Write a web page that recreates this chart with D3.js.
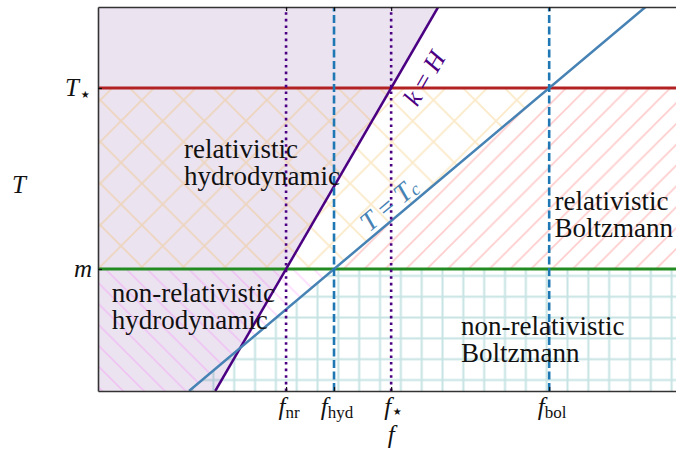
<!DOCTYPE html>
<html>
<head>
<meta charset="utf-8">
<script src="https://cdn.jsdelivr.net/npm/d3@7"></script>
<style>
  html, body { margin: 0; padding: 0; background: #fff; }
  svg { display: block; }
  text { font-family: "Liberation Serif", "DejaVu Serif", serif; fill: #111; }
</style>
</head>
<body>
<svg id="chart" width="676" height="450"></svg>
<script>
// ---------------- data (log-scale units) ----------------
const xDomain = [0, 4.9];
const yDomain = [0, 3.148];

// frequency thresholds on the f axis
const fSub  = ["nr", "hyd", "\u22C6", "bol"];
const fVals = [1.541, 1.934, 2.402, 3.697];

// temperature thresholds on the T axis
const tBase = ["m", "T"];
const tSub  = ["", "\u22C6"];
const tVals = [1.0, 2.484];

// regime labels
const regimeLines = [
  ["relativistic", "hydrodynamic"],
  ["non-relativistic", "hydrodynamic"],
  ["relativistic", "Boltzmann"],
  ["non-relativistic", "Boltzmann"]
];
const regimeAnchor = [[0.705, 1.91], [0.112, 0.727], [3.74, 1.484], [2.975, 0.459]];

// ---------------- layout ----------------
const svg = d3.select("#chart");
const L = 98, T0 = 7, B = 391, R = 696;
const x = d3.scaleLinear().domain(xDomain).range([L, R]);
const y = d3.scaleLinear().domain(yDomain).range([B, T0]);

const fNr = fVals[0], fHyd = fVals[1], fStar = fVals[2], fBol = fVals[3];
const m = tVals[0], tStar = tVals[1];

// k = H line through (f_nr, m) and (f_star, T_star)
const kSlope = (tStar - m) / (fStar - fNr);
const kH = v => fNr + (v - m) / kSlope;
// T = Tc line through (f_hyd, m) and (f_bol, T_star)
const cSlope = (tStar - m) / (fBol - fHyd);
const tc = v => fHyd + (v - m) / cSlope;

const yMin = yDomain[0], yMax = yDomain[1], xMin = xDomain[0], xMax = xDomain[1];

// ---------------- patterns ----------------
const defs = svg.append("defs");
defs.append("clipPath").attr("id", "plotclip")
  .append("rect").attr("x", L).attr("y", T0).attr("width", R - L).attr("height", B - T0);

function pattern(id, size, ox, oy, d, color, sw) {
  const p = defs.append("pattern").attr("id", id)
    .attr("patternUnits", "userSpaceOnUse")
    .attr("x", ox).attr("y", oy).attr("width", size).attr("height", size);
  p.append("path").attr("d", d).attr("stroke", color).attr("stroke-width", sw)
    .attr("fill", "none");
}
const P1 = 20.83, P2 = 41.66;
pattern("hatchGrid", P1, 5.1 - P1 / 2, 5.1 - P1 / 2,
  `M${P1/2},0 V${P1} M0,${P1/2} H${P1}`, "rgba(0,128,128,0.22)", 2);
pattern("hatchFwd", P1, 8.5, 0,
  `M0,${P1} L${P1},0 M-2,2 L2,-2 M${P1-2},${P1+2} L${P1+2},${P1-2}`, "rgba(255,0,0,0.2)", 1.6);
pattern("hatchBack", P1, 3, 0,
  `M0,0 L${P1},${P1} M${P1-2},-2 L${P1+2},2 M-2,${P1-2} L2,${P1+2}`, "rgba(255,0,255,0.16)", 1.5);
pattern("hatchCross", P2, 16.9, 16.8,
  `M0,0 L${P2},${P2} M0,${P2} L${P2},0 M${P2-2},-2 L${P2+2},2 M-2,${P2-2} L2,${P2+2} M-2,2 L2,-2 M${P2-2},${P2+2} L${P2+2},${P2-2}`,
  "rgba(240,170,40,0.25)", 1.9);

const plot = svg.append("g").attr("clip-path", "url(#plotclip)");
const poly = pts => "M" + pts.map(p => `${x(p[0])},${y(p[1])}`).join("L") + "Z";

plot.append("path")
  .attr("d", poly([[xMin, yMin], [kH(yMin), yMin], [kH(yMax), yMax], [xMin, yMax]]))
  .attr("fill", "rgb(236,227,241)");
plot.append("path")
  .attr("d", poly([[xMin, m], [tc(m), m], [tc(tStar), tStar], [xMin, tStar]]))
  .attr("fill", "url(#hatchCross)");
plot.append("path")
  .attr("d", poly([[tc(m), m], [xMax, m], [xMax, tStar], [tc(tStar), tStar]]))
  .attr("fill", "url(#hatchFwd)");
plot.append("path")
  .attr("d", poly([[xMin, yMin], [tc(yMin), yMin], [tc(m), m], [xMin, m]]))
  .attr("fill", "url(#hatchBack)");
plot.append("path")
  .attr("d", poly([[tc(yMin), yMin], [xMax, yMin], [xMax, m], [tc(m), m]]))
  .attr("fill", "url(#hatchGrid)");

// horizontal threshold lines
const hColors = ["#228b22", "#b22222"];
plot.selectAll("line.h").data(tVals).join("line").attr("class", "h")
  .attr("x1", x(xMin)).attr("x2", x(xMax))
  .attr("y1", d => y(d)).attr("y2", d => y(d))
  .attr("stroke", (d, i) => hColors[i]).attr("stroke-width", 2.8);

// diagonal lines
const line = d3.line().x(d => x(d[0])).y(d => y(d[1]));
plot.append("path").datum([[kH(yMin), yMin], [kH(yMax), yMax]])
  .attr("d", line).attr("stroke", "#4b0082").attr("stroke-width", 2.5).attr("fill", "none");
plot.append("path").datum([[tc(yMin), yMin], [tc(yMax), yMax]])
  .attr("d", line).attr("stroke", "#4682b4").attr("stroke-width", 2.5).attr("fill", "none");

// vertical threshold lines
const vColors = ["#4b0082", "#1f77b4", "#4b0082", "#1f77b4"];
const vDash = ["2.6,4", "8,3.5", "2.6,4", "8,3.5"];
plot.selectAll("line.v").data(fVals).join("line").attr("class", "v")
  .attr("x1", d => x(d)).attr("x2", d => x(d))
  .attr("y1", y(yMin)).attr("y2", y(yMax))
  .attr("stroke", (d, i) => vColors[i]).attr("stroke-width", 2.6)
  .attr("stroke-dasharray", (d, i) => vDash[i]);

// ---------------- axes ----------------
const axColor = "#333";
function styleAxis(g) {
  g.select(".domain").attr("stroke", axColor).attr("stroke-width", 1.6);
  g.selectAll(".tick line").attr("stroke", "#111").attr("stroke-width", 1.2);
  g.selectAll(".tick text").remove();
}
svg.append("g").attr("transform", `translate(0,${B})`)
  .call(d3.axisBottom(x).tickValues(fVals).tickSizeInner(-4).tickSizeOuter(0)).call(styleAxis);
svg.append("g").attr("transform", `translate(0,${T0})`)
  .call(d3.axisTop(x).tickValues(fVals).tickSizeInner(-4).tickSizeOuter(0)).call(styleAxis);
svg.append("g").attr("transform", `translate(${L},0)`)
  .call(d3.axisLeft(y).tickValues(tVals).tickSizeInner(-4).tickSizeOuter(0)).call(styleAxis);

// x tick labels
const xl = svg.selectAll("text.xt").data(fVals).join("text").attr("class", "xt")
  .attr("x", d => x(d) + 3).attr("y", 415).attr("text-anchor", "middle");
xl.append("tspan").attr("font-style", "italic").attr("font-size", 25).text("f");
xl.append("tspan").attr("font-size", (d, i) => i === 2 ? 20 : 17).attr("dy", 3)
  .text((d, i) => fSub[i]);

// y tick labels
const yl = svg.selectAll("text.yt").data(tVals).join("text").attr("class", "yt")
  .attr("x", 92).attr("y", d => y(d) + 8).attr("text-anchor", "end");
yl.append("tspan").attr("font-style", "italic").attr("font-size", 25).text((d, i) => tBase[i]);
yl.append("tspan").attr("font-size", 20).attr("dy", 5).text((d, i) => tSub[i]);

// axis titles
svg.append("text").attr("x", x(fStar)).attr("y", 443).attr("text-anchor", "middle")
  .attr("font-style", "italic").attr("font-size", 25).text("f");
svg.append("text").attr("x", 19).attr("y", 193).attr("text-anchor", "middle")
  .attr("font-style", "italic").attr("font-size", 25).text("T");

// regime labels
regimeLines.forEach((lines, i) => {
  const t = svg.append("text").attr("font-size", 27)
    .attr("x", x(regimeAnchor[i][0])).attr("y", y(regimeAnchor[i][1]));
  lines.forEach((s, j) => t.append("tspan").attr("x", x(regimeAnchor[i][0]))
    .attr("dy", j === 0 ? 0 : 27).text(s));
});

// rotated line labels
const angK = Math.atan2(y(tStar) - y(m), x(fStar) - x(fNr)) * 180 / Math.PI;
const angC = Math.atan2(y(tStar) - y(m), x(fBol) - x(fHyd)) * 180 / Math.PI;
const kx = x(2.672), ky = y(2.566);
const kt = svg.append("text").attr("text-anchor", "middle").attr("dominant-baseline", "central")
  .attr("transform", `translate(${kx},${ky}) rotate(${angK})`)
  .attr("font-size", 26).style("fill", "#4b0082");
kt.append("tspan").attr("font-style", "italic").text("k");
kt.append("tspan").text(" = ");
kt.append("tspan").attr("font-style", "italic").text("H");

const cx = x(2.385), cy = y(1.53);
const ct = svg.append("text").attr("text-anchor", "middle").attr("dominant-baseline", "central")
  .attr("transform", `translate(${cx},${cy}) rotate(${angC})`)
  .attr("font-size", 27).style("fill", "#4682b4");
ct.append("tspan").attr("font-style", "italic").text("T");
ct.append("tspan").text(" = ");
ct.append("tspan").attr("font-style", "italic").text("T");
ct.append("tspan").attr("font-style", "italic").attr("font-size", 18).attr("dy", 5).text("c");
</script>
</body>
</html>
